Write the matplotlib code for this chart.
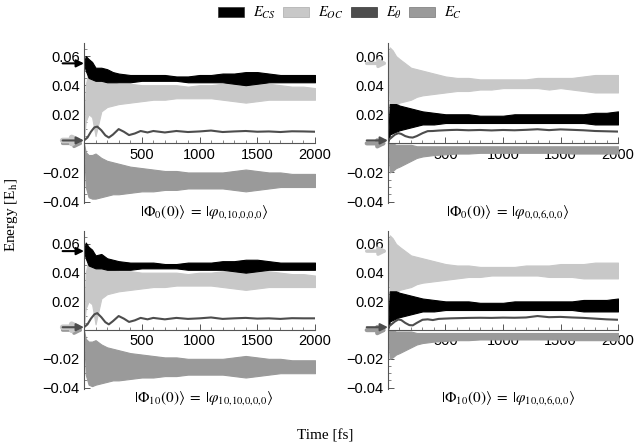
import matplotlib
matplotlib.use("Agg")
import matplotlib.pyplot as plt
from matplotlib.patches import Patch
from matplotlib.ticker import MultipleLocator, FixedLocator
import numpy as np

plt.rcParams['font.family'] = ['Liberation Sans', 'DejaVu Sans']
plt.rcParams['mathtext.fontset'] = 'stix'

# time grid for the oscillating bands (envelopes)
t_band = [0, 15, 40, 70, 100, 150, 200, 250, 300, 400, 500, 600, 700, 800, 900,
          1000, 1100, 1200, 1300, 1400, 1500, 1600, 1700, 1800, 1900, 2000]
# time grid for the smooth E_theta curve
t_theta = [0, 30, 60, 90, 115, 150, 185, 215, 250, 300, 345, 390, 440, 490, 550,
           600, 700, 800, 900, 1000, 1100, 1200, 1300, 1400, 1500, 1600, 1700, 1800, 1900, 2000]

# panel A: |Phi_0(0)> = |phi_0,10,0,0,0>
a_cs_hi = [0.055, 0.060, 0.058, 0.056, 0.052, 0.052, 0.051, 0.049, 0.048, 0.047, 0.047, 0.047, 0.047,
           0.046, 0.046, 0.047, 0.047, 0.048, 0.048, 0.049, 0.049, 0.048, 0.047, 0.047, 0.047, 0.047]
a_cs_lo = [0.055, 0.050, 0.045, 0.044, 0.043, 0.043, 0.042, 0.042, 0.042, 0.042, 0.043, 0.043, 0.043,
           0.043, 0.042, 0.042, 0.042, 0.042, 0.041, 0.040, 0.041, 0.042, 0.042, 0.042, 0.042, 0.042]
a_oc_hi = [0.002, 0.040, 0.050, 0.048, 0.046, 0.043, 0.042, 0.042, 0.041, 0.041, 0.040, 0.040, 0.040,
           0.040, 0.039, 0.040, 0.040, 0.041, 0.042, 0.043, 0.042, 0.041, 0.040, 0.039, 0.039, 0.038]
a_oc_lo = [0.002, 0.015, 0.020, 0.018, 0.005, 0.022, 0.025, 0.026, 0.027, 0.028, 0.029, 0.030, 0.030,
           0.031, 0.031, 0.031, 0.031, 0.030, 0.029, 0.028, 0.029, 0.030, 0.030, 0.030, 0.030, 0.030]
a_c_hi = [0.0, -0.006, -0.008, -0.008, -0.007, -0.010, -0.012, -0.013, -0.014, -0.016, -0.017, -0.018, -0.019,
          -0.019, -0.020, -0.020, -0.020, -0.020, -0.019, -0.018, -0.019, -0.020, -0.020, -0.021, -0.021, -0.021]
a_c_lo = [0.0, -0.030, -0.037, -0.038, -0.038, -0.037, -0.036, -0.035, -0.035, -0.034, -0.033, -0.033, -0.032,
          -0.032, -0.031, -0.031, -0.031, -0.031, -0.032, -0.033, -0.032, -0.031, -0.030, -0.030, -0.030, -0.030]
a_theta = [0.002, 0.004, 0.008, 0.011, 0.0115, 0.009, 0.0055, 0.004, 0.006, 0.0098, 0.008, 0.0057, 0.0068,
           0.0085, 0.0075, 0.0085, 0.0075, 0.0085, 0.0078, 0.0082, 0.0088, 0.0078, 0.0082, 0.0085, 0.008,
           0.0082, 0.0078, 0.0083, 0.0082, 0.008]

# panel B: |Phi_0(0)> = |phi_0,0,6,0,0>
b_cs_hi = [0.0, 0.027, 0.027, 0.027, 0.026, 0.025, 0.024, 0.023, 0.022, 0.021, 0.020, 0.020, 0.020,
           0.019, 0.019, 0.019, 0.020, 0.020, 0.020, 0.020, 0.020, 0.020, 0.020, 0.021, 0.021, 0.022]
b_cs_lo = [0.0, 0.006, 0.007, 0.008, 0.009, 0.010, 0.011, 0.012, 0.013, 0.013, 0.014, 0.014, 0.014,
           0.014, 0.014, 0.014, 0.014, 0.014, 0.014, 0.014, 0.014, 0.014, 0.014, 0.013, 0.013, 0.013]
b_oc_hi = [0.055, 0.066, 0.064, 0.060, 0.058, 0.055, 0.052, 0.051, 0.050, 0.048, 0.046, 0.045, 0.045,
           0.044, 0.044, 0.044, 0.044, 0.044, 0.045, 0.045, 0.045, 0.045, 0.046, 0.047, 0.047, 0.047]
b_oc_lo = [0.055, 0.024, 0.025, 0.026, 0.028, 0.029, 0.030, 0.032, 0.033, 0.034, 0.035, 0.036, 0.036,
           0.037, 0.037, 0.038, 0.038, 0.038, 0.038, 0.037, 0.038, 0.037, 0.036, 0.035, 0.035, 0.035]
b_c_hi = [0.0, 0.0, 0.0, -0.001, -0.001, -0.001, -0.001, -0.002, -0.002, -0.002, -0.002, -0.002, -0.002,
          -0.002, -0.002, -0.002, -0.002, -0.002, -0.002, -0.002, -0.002, -0.002, -0.002, -0.002, -0.002, -0.002]
b_c_lo = [0.0, -0.020, -0.019, -0.017, -0.016, -0.014, -0.012, -0.010, -0.009, -0.008, -0.0075, -0.007, -0.007,
          -0.0065, -0.0065, -0.0065, -0.0065, -0.0065, -0.0065, -0.0065, -0.0065, -0.007, -0.007, -0.007, -0.007, -0.007]
b_theta = [0.002, 0.004, 0.006, 0.007, 0.0065, 0.005, 0.0042, 0.004, 0.005, 0.007, 0.0084, 0.0085, 0.0088,
           0.009, 0.0092, 0.0093, 0.009, 0.0092, 0.0089, 0.0092, 0.009, 0.0093, 0.0097, 0.0091, 0.0096,
           0.0093, 0.009, 0.0085, 0.0083, 0.0081]

# panel C: |Phi_10(0)> = |phi_10,10,0,0,0>
c_cs_hi = [0.055, 0.061, 0.058, 0.056, 0.052, 0.053, 0.050, 0.049, 0.048, 0.047, 0.047, 0.047, 0.046,
           0.046, 0.047, 0.047, 0.047, 0.048, 0.048, 0.049, 0.049, 0.048, 0.047, 0.047, 0.047, 0.047]
c_cs_lo = [0.055, 0.050, 0.045, 0.044, 0.043, 0.043, 0.042, 0.042, 0.042, 0.042, 0.043, 0.043, 0.043,
           0.043, 0.042, 0.042, 0.042, 0.042, 0.041, 0.040, 0.041, 0.042, 0.042, 0.042, 0.042, 0.042]
c_oc_hi = [0.002, 0.040, 0.050, 0.048, 0.046, 0.043, 0.042, 0.042, 0.041, 0.041, 0.040, 0.040, 0.040,
           0.040, 0.039, 0.040, 0.040, 0.041, 0.042, 0.043, 0.042, 0.041, 0.040, 0.039, 0.039, 0.038]
c_oc_lo = [0.002, 0.015, 0.020, 0.018, 0.004, 0.022, 0.025, 0.026, 0.027, 0.028, 0.029, 0.030, 0.030,
           0.031, 0.031, 0.031, 0.031, 0.030, 0.029, 0.028, 0.029, 0.030, 0.030, 0.030, 0.030, 0.030]
c_c_hi = [0.0, -0.006, -0.008, -0.008, -0.007, -0.010, -0.012, -0.013, -0.014, -0.016, -0.017, -0.018, -0.019,
          -0.019, -0.020, -0.020, -0.020, -0.020, -0.019, -0.018, -0.019, -0.020, -0.020, -0.021, -0.021, -0.021]
c_c_lo = [0.0, -0.031, -0.038, -0.039, -0.038, -0.037, -0.036, -0.035, -0.035, -0.034, -0.033, -0.033, -0.032,
          -0.032, -0.031, -0.031, -0.031, -0.031, -0.032, -0.033, -0.032, -0.031, -0.030, -0.030, -0.030, -0.030]
c_theta = [0.002, 0.004, 0.008, 0.011, 0.0118, 0.009, 0.0055, 0.004, 0.0062, 0.0098, 0.008, 0.0057, 0.0068,
           0.0085, 0.0075, 0.0085, 0.0075, 0.0085, 0.0078, 0.0082, 0.0088, 0.0078, 0.0082, 0.0085, 0.008,
           0.0082, 0.0078, 0.0083, 0.0082, 0.0082]

# panel D: |Phi_10(0)> = |phi_10,0,6,0,0>
d_cs_hi = [0.0, 0.027, 0.027, 0.027, 0.026, 0.025, 0.024, 0.023, 0.022, 0.021, 0.020, 0.020, 0.020,
           0.019, 0.019, 0.019, 0.020, 0.020, 0.020, 0.020, 0.020, 0.020, 0.021, 0.021, 0.021, 0.022]
d_cs_lo = [0.0, 0.006, 0.007, 0.008, 0.009, 0.010, 0.011, 0.012, 0.013, 0.013, 0.014, 0.014, 0.014,
           0.014, 0.014, 0.014, 0.014, 0.014, 0.014, 0.014, 0.014, 0.014, 0.013, 0.013, 0.013, 0.013]
d_oc_hi = [0.055, 0.066, 0.064, 0.060, 0.058, 0.055, 0.052, 0.051, 0.050, 0.048, 0.046, 0.045, 0.045,
           0.044, 0.044, 0.044, 0.044, 0.045, 0.045, 0.045, 0.046, 0.046, 0.046, 0.047, 0.047, 0.047]
d_oc_lo = [0.055, 0.024, 0.025, 0.026, 0.028, 0.029, 0.030, 0.032, 0.033, 0.034, 0.035, 0.036, 0.037,
           0.037, 0.038, 0.038, 0.038, 0.038, 0.038, 0.037, 0.037, 0.037, 0.036, 0.036, 0.036, 0.036]
d_c_hi = b_c_hi
d_c_lo = b_c_lo
d_theta = [0.002, 0.004, 0.006, 0.0074, 0.007, 0.005, 0.0035, 0.0033, 0.005, 0.0072, 0.0075, 0.007, 0.0078,
           0.008, 0.0082, 0.0083, 0.0085, 0.0086, 0.0085, 0.0087, 0.0086, 0.0088, 0.0098, 0.009, 0.0092,
           0.0088, 0.0085, 0.008, 0.0075, 0.0072]

captions = [r'$|\Phi_0(0)\rangle\;=\;|\varphi_{0{,}10{,}0{,}0{,}0}\rangle$',
            r'$|\Phi_0(0)\rangle\;=\;|\varphi_{0{,}0{,}6{,}0{,}0}\rangle$',
            r'$|\Phi_{10}(0)\rangle\;=\;|\varphi_{10{,}10{,}0{,}0{,}0}\rangle$',
            r'$|\Phi_{10}(0)\rangle\;=\;|\varphi_{10{,}0{,}6{,}0{,}0}\rangle$']

col_cs = '#000000'
col_oc = '#c8c8c8'
col_th = '#4d4d4d'
col_c = '#9a9a9a'

panels = [
    (a_cs_hi, a_cs_lo, a_oc_hi, a_oc_lo, a_c_hi, a_c_lo, a_theta),
    (b_cs_hi, b_cs_lo, b_oc_hi, b_oc_lo, b_c_hi, b_c_lo, b_theta),
    (c_cs_hi, c_cs_lo, c_oc_hi, c_oc_lo, c_c_hi, c_c_lo, c_theta),
    (d_cs_hi, d_cs_lo, d_oc_hi, d_oc_lo, d_c_hi, d_c_lo, d_theta),
]

W, H = 638, 445
fig = plt.figure(figsize=(W / 100, H / 100), dpi=100)

# axes boxes in pixels: left, top, right, bottom
boxes = [(84, 43, 315, 203), (388, 43, 618, 203), (84, 231, 315, 389), (388, 231, 618, 389)]


def arrow(ax, y, color, lw):
    ax.annotate('', xy=(0, y), xytext=(-185, y),
                arrowprops=dict(arrowstyle='-|>', color=color, lw=lw, mutation_scale=11,
                                shrinkA=0, shrinkB=0),
                annotation_clip=False, zorder=6)


for i, (box, data, cap) in enumerate(zip(boxes, panels, captions)):
    l, t, r, b = box
    ax = fig.add_axes([l / W, 1 - b / H, (r - l) / W, (b - t) / H])
    cs_hi, cs_lo, oc_hi, oc_lo, c_hi, c_lo, th = data

    ax.fill_between(t_band, c_lo, c_hi, color=col_c, lw=0.8, zorder=2)
    ax.fill_between(t_band, oc_lo, oc_hi, color=col_oc, lw=0.8, zorder=3)
    ax.fill_between(t_band, cs_lo, cs_hi, color=col_cs, lw=0.8, zorder=4)
    ax.plot(t_theta, th, color=col_th, lw=1.5, zorder=5)

    # initial-value arrows
    if i % 2 == 0:
        arrow(ax, c_hi[0], col_c, 2.5)
        arrow(ax, oc_hi[0], col_oc, 4)
        arrow(ax, th[0], col_th, 1.5)
        arrow(ax, cs_hi[0], col_cs, 1.5)
    else:
        arrow(ax, c_hi[0], col_c, 3)
        arrow(ax, th[0], col_th, 1.5)
        arrow(ax, oc_hi[0], col_oc, 2.5)

    ax.set_xlim(0, 2000)
    ax.set_ylim(-0.041, 0.069)
    ax.patch.set_alpha(0)
    for s in ['top', 'right']:
        ax.spines[s].set_visible(False)
    ax.spines['left'].set_position(('data', 0))
    ax.spines['bottom'].set_position(('data', 0))
    for s in ['left', 'bottom']:
        ax.spines[s].set_color('#555555')
        ax.spines[s].set_linewidth(0.8)
        ax.spines[s].set_zorder(7)

    ax.xaxis.set_major_locator(FixedLocator([500, 1000, 1500, 2000]))
    ax.xaxis.set_minor_locator(MultipleLocator(100))
    ax.yaxis.set_major_locator(FixedLocator([-0.04, -0.02, 0.02, 0.04, 0.06]))
    ax.yaxis.set_minor_locator(MultipleLocator(0.005))
    ax.set_xticklabels(['500', '1000', '1500', '2000'])
    ax.set_yticklabels(['\u22120.04', '\u22120.02', '0.02', '0.04', '0.06'])
    ax.tick_params(which='both', direction='in', color='#555555', labelsize=10.5, pad=3)
    ax.tick_params(which='major', length=4, width=0.7)
    ax.tick_params(which='minor', length=2, width=0.5)

    ax.text(0.52, -0.055, cap, transform=ax.transAxes, ha='center', va='center', fontsize=11)

handles = [Patch(facecolor=col_cs, edgecolor='#333333', lw=0.5),
           Patch(facecolor=col_oc, edgecolor='#aaaaaa', lw=0.5),
           Patch(facecolor=col_th, edgecolor='#333333', lw=0.5),
           Patch(facecolor=col_c, edgecolor='#777777', lw=0.5)]
labels = [r'$E_{CS}$', r'$E_{OC}$', r'$E_{\theta}$', r'$E_{C}$']
fig.legend(handles, labels, loc='center', bbox_to_anchor=(340 / W, 1 - 13 / H), ncol=4,
           frameon=False, fontsize=10.5, handlelength=1.8, handleheight=0.65,
           handletextpad=0.6, columnspacing=0.5)

fig.text(12 / W, 1 - 215 / H, r'Energy [E$_\mathrm{h}$]', rotation=90, ha='center', va='center',
         fontsize=11, family='Liberation Serif')
fig.text(0.51, 1 - 436 / H, 'Time [fs]', ha='center', va='center', fontsize=11,
         family='Liberation Serif')

fig.savefig('out.png', dpi=100)
